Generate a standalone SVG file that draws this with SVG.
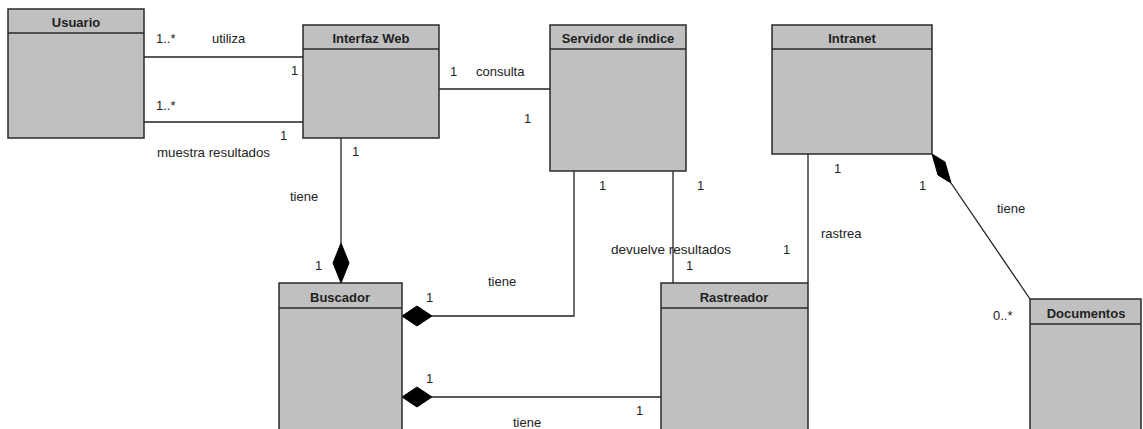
<svg xmlns="http://www.w3.org/2000/svg" width="1143" height="429" viewBox="0 0 1143 429">
  <defs>
    <style>
      .box { fill: #c0c0c0; stroke: #2a2a2a; stroke-width: 1.5; }
      .sep { stroke: #2a2a2a; stroke-width: 1.5; }
      .title { font-family: "Liberation Sans", Arial, sans-serif; font-size: 13px; font-weight: bold; fill: #222; text-anchor: middle; }
      .lbl { font-family: "Liberation Sans", Arial, sans-serif; font-size: 13px; fill: #222; }
      .conn { fill: none; stroke: #222; stroke-width: 1.3; }
      .dia { fill: #000; stroke: #000; stroke-width: 1; }
    </style>
  </defs>
  <rect width="1143" height="429" fill="#ffffff"/>

  <!-- associations -->
  <g id="connectors">
    <line class="conn" x1="144" y1="57" x2="303" y2="57"/>
    <line class="conn" x1="144" y1="122" x2="303" y2="122"/>
    <line class="conn" x1="439" y1="89" x2="550" y2="89"/>
    <line class="conn" x1="341" y1="138" x2="341" y2="243"/>
    <polygon class="dia" points="341,243 349,263 341,283 333,263"/>
    <polyline class="conn" points="574,171 574,316 432,316"/>
    <polygon class="dia" points="402,316 417,306 432,316 417,326"/>
    <line class="conn" x1="432" y1="397" x2="661" y2="397"/>
    <polygon class="dia" points="402,397 417,387 432,397 417,407"/>
    <line class="conn" x1="673" y1="171" x2="673" y2="283"/>
    <line class="conn" x1="808" y1="154" x2="808" y2="283"/>
    <line class="conn" x1="951" y1="183" x2="1030" y2="299"/>
    <polygon class="dia" points="932,154 945,162 951,183 938,175"/>
  </g>

  <!-- classes -->
  <g id="usuario">
    <rect class="box" x="8" y="9" width="136" height="129"/>
    <line class="sep" x1="8" y1="33" x2="144" y2="33"/>
    <text class="title" x="76" y="27">Usuario</text>
  </g>
  <g id="interfaz-web">
    <rect class="box" x="303" y="25" width="136" height="113"/>
    <line class="sep" x1="303" y1="49" x2="439" y2="49"/>
    <text class="title" x="371" y="43">Interfaz Web</text>
  </g>
  <g id="servidor-indice">
    <rect class="box" x="550" y="25" width="136" height="146"/>
    <line class="sep" x1="550" y1="49" x2="686" y2="49"/>
    <text class="title" x="618" y="43">Servidor de índice</text>
  </g>
  <g id="intranet">
    <rect class="box" x="772" y="25" width="160" height="129"/>
    <line class="sep" x1="772" y1="49" x2="932" y2="49"/>
    <text class="title" x="852" y="43">Intranet</text>
  </g>
  <g id="buscador">
    <rect class="box" x="279" y="283" width="123" height="160"/>
    <line class="sep" x1="279" y1="308" x2="402" y2="308"/>
    <text class="title" x="340" y="302">Buscador</text>
  </g>
  <g id="rastreador">
    <rect class="box" x="661" y="283" width="147" height="160"/>
    <line class="sep" x1="661" y1="308" x2="808" y2="308"/>
    <text class="title" x="734" y="302">Rastreador</text>
  </g>
  <g id="documentos">
    <rect class="box" x="1030" y="299" width="111" height="144"/>
    <line class="sep" x1="1030" y1="324" x2="1141" y2="324"/>
    <text class="title" x="1086" y="318">Documentos</text>
  </g>

  <!-- association names and multiplicities -->
  <g id="labels">
    <text class="lbl" x="156" y="43">1..*</text>
    <text class="lbl" x="212" y="43">utiliza</text>
    <text class="lbl" x="291" y="75">1</text>
    <text class="lbl" x="156" y="110">1..*</text>
    <text class="lbl" x="280" y="140">1</text>
    <text class="lbl" x="157" y="157" textLength="113" lengthAdjust="spacingAndGlyphs">muestra resultados</text>
    <text class="lbl" x="450" y="76">1</text>
    <text class="lbl" x="476" y="76">consulta</text>
    <text class="lbl" x="524" y="123">1</text>
    <text class="lbl" x="352" y="156">1</text>
    <text class="lbl" x="834" y="173">1</text>
    <text class="lbl" x="919" y="190">1</text>
    <text class="lbl" x="290" y="201">tiene</text>
    <text class="lbl" x="315" y="270">1</text>
    <text class="lbl" x="599" y="190">1</text>
    <text class="lbl" x="697" y="190">1</text>
    <text class="lbl" x="611" y="254" textLength="120" lengthAdjust="spacingAndGlyphs">devuelve resultados</text>
    <text class="lbl" x="686" y="270">1</text>
    <text class="lbl" x="488" y="286">tiene</text>
    <text class="lbl" x="426" y="302">1</text>
    <text class="lbl" x="426" y="383">1</text>
    <text class="lbl" x="636" y="415">1</text>
    <text class="lbl" x="513" y="427">tiene</text>
    <text class="lbl" x="783" y="254">1</text>
    <text class="lbl" x="821" y="238">rastrea</text>
    <text class="lbl" x="997" y="213">tiene</text>
    <text class="lbl" x="993" y="320">0..*</text>
  </g>
</svg>
